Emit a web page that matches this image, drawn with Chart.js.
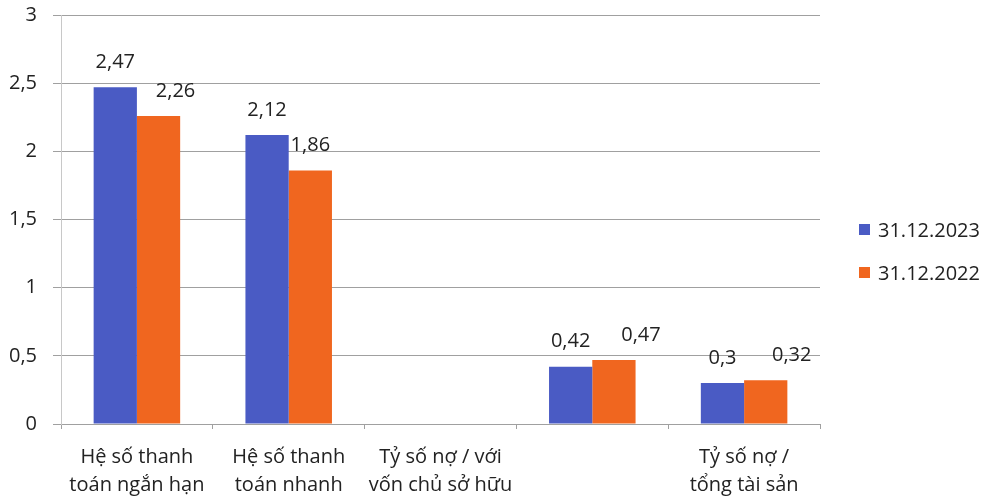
<!DOCTYPE html>
<html><head><meta charset="utf-8">
<script src="https://cdn.jsdelivr.net/npm/chart.js@4/dist/chart.umd.min.js"></script>
<style>
html,body{margin:0;padding:0;background:#fff;}
#wrap{position:relative;width:986px;height:501px;}
#legend{position:absolute;left:859px;top:216px;font-family:"Open Sans",sans-serif;font-size:20px;line-height:28px;color:#222;}
#legend div{height:43px;display:flex;align-items:flex-start;}
#legend span.box{display:inline-block;width:11px;height:11px;margin-top:8px;margin-right:8px;}
</style>
</head><body>
<div id="wrap"><canvas id="c" width="986" height="501"></canvas><div id="legend"></div></div>
<script>
const categories = [
  ["Hệ số thanh", "toán ngắn hạn"],
  ["Hệ số thanh", "toán nhanh"],
  ["Tỷ số nợ / với", "vốn chủ sở hữu"],
  "",
  ["Tỷ số nợ /", "tổng tài sản"]
];
const seriesNames = ["31.12.2023", "31.12.2022"];
const values2023 = [2.47, 2.12, null, 0.42, 0.30];
const values2022 = [2.26, 1.86, null, 0.47, 0.32];
const yTicks = [0, 0.5, 1, 1.5, 2, 2.5, 3];

const colors = ["#4a5bc4", "#f0661f"];
const labelShift = [[0,0,0,0,0],[17,0,0,27,26]];
const FONT = '"Open Sans", sans-serif';

const fmt = v => String(v).replace('.', ',');

const valueLabels = {
  id: 'valueLabels',
  afterDatasetsDraw(chart) {
    const ctx = chart.ctx;
    ctx.save();
    ctx.font = '20px ' + FONT;
    ctx.fillStyle = '#222';
    ctx.textAlign = 'center';
    ctx.textBaseline = 'middle';
    chart.data.datasets.forEach((ds, di) => {
      const meta = chart.getDatasetMeta(di);
      meta.data.forEach((bar, i) => {
        const v = ds.data[i];
        if (v === null || v === undefined) return;
        ctx.fillText(fmt(v), bar.x + labelShift[di][i], bar.y - 25);
      });
    });
    ctx.restore();
  }
};

const chart = new Chart(document.getElementById('c'), {
  type: 'bar',
  data: {
    labels: categories,
    datasets: [
      {label: seriesNames[0], data: values2023, backgroundColor: colors[0]},
      {label: seriesNames[1], data: values2022, backgroundColor: colors[1]}
    ]
  },
  options: {
    responsive: false,
    animation: false,
    layout: {padding: {top: 0, right: 166, bottom: 0, left: 0}},
    datasets: {bar: {barPercentage: 1, categoryPercentage: 0.57}},
    plugins: {legend: {display: false}, tooltip: {enabled: false}},
    scales: {
      x: {
        grid: {display: true, drawOnChartArea: false, drawTicks: true, tickLength: 5, color: '#a0a0a0', offset: true},
        border: {color: '#a0a0a0'},
        ticks: {font: {family: FONT, size: 20, lineHeight: 1.4}, color: '#222', padding: 14, maxRotation: 0, autoSkip: false},
        afterFit(s) { s.height = 77; }
      },
      y: {
        min: 0, max: 3,
        afterBuildTicks(s) { s.ticks = yTicks.map(v => ({value: v})); },
        grid: {color: '#a0a0a0', tickLength: 8, drawTicks: true},
        border: {color: '#c8c8c8'},
        ticks: {font: {family: FONT, size: 20}, color: '#222', padding: 16, callback: v => fmt(v)},
        afterFit(s) { s.width = 61; s.paddingTop = 15; s.paddingBottom = 12; }
      }
    }
  },
  plugins: [valueLabels]
});

const leg = document.getElementById('legend');
seriesNames.forEach((n, i) => {
  const d = document.createElement('div');
  d.innerHTML = '<span class="box" style="background:' + colors[i] + '"></span><span>' + n + '</span>';
  leg.appendChild(d);
});
</script>
</body></html>
